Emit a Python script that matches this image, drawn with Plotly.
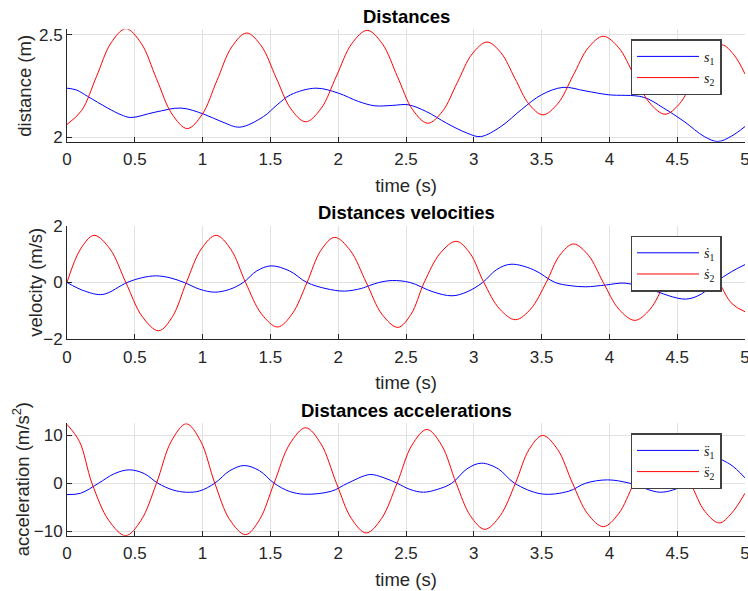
import plotly.graph_objects as go

# distances
t_s1 = [0, 0.07, 0.152, 0.3, 0.4, 0.47, 0.65, 0.841, 1.01, 1.15, 1.275, 1.45, 1.55, 1.65, 1.835,
        2.0, 2.15, 2.27, 2.4, 2.515, 2.65, 2.8, 2.95, 3.05, 3.2, 3.35, 3.5, 3.66, 3.82, 3.99, 4.25,
        4.4, 4.55, 4.7, 4.8, 4.9, 5.0]
s1 = [2.239, 2.23, 2.199, 2.142, 2.109, 2.096, 2.122, 2.142, 2.112, 2.073, 2.049, 2.101, 2.158,
      2.207, 2.239, 2.215, 2.174, 2.153, 2.155, 2.158, 2.125, 2.068, 2.02, 2.003, 2.052, 2.134,
      2.207, 2.243, 2.226, 2.207, 2.195, 2.142, 2.077, 2.003, 1.979, 2.005, 2.052]
t_s2 = [0, 0.108, 0.217, 0.325, 0.434, 0.547, 0.66, 0.774, 0.887, 0.996, 1.105, 1.215, 1.324,
        1.433, 1.542, 1.651, 1.76, 1.874, 1.987, 2.1, 2.214, 2.326, 2.437, 2.549, 2.66, 2.769,
        2.878, 2.988, 3.097, 3.2, 3.303, 3.407, 3.51, 3.621, 3.732, 3.844, 3.955, 4.069, 4.182,
        4.296, 4.41, 4.515, 4.62, 4.725, 4.83, 4.92, 5.0]
s2 = [2.062, 2.13, 2.295, 2.46, 2.529, 2.458, 2.285, 2.113, 2.042, 2.11, 2.275, 2.44, 2.508,
      2.445, 2.29, 2.138, 2.075, 2.14, 2.298, 2.456, 2.521, 2.455, 2.295, 2.134, 2.068, 2.126,
      2.266, 2.406, 2.464, 2.412, 2.287, 2.161, 2.109, 2.165, 2.3, 2.436, 2.492, 2.436, 2.302,
      2.168, 2.112, 2.161, 2.281, 2.4, 2.45, 2.4, 2.308]

# velocities
t_v1 = [0, 0.13, 0.265, 0.443, 0.55, 0.654, 0.76, 0.864, 0.98, 1.09, 1.2, 1.3, 1.4, 1.505, 1.64,
        1.77, 1.91, 2.045, 2.17, 2.232, 2.3, 2.4, 2.53, 2.7, 2.84, 2.95, 3.065, 3.17, 3.275, 3.44,
        3.6, 3.71, 3.825, 3.97, 4.116, 4.3, 4.56, 4.68, 4.78, 4.9, 5.0]
v1 = [0, -0.3, -0.42, 0, 0.165, 0.234, 0.165, 0, -0.24, -0.34, -0.24, 0, 0.41, 0.585, 0.41, 0,
      -0.215, -0.304, -0.21, -0.106, 0, 0.07, 0, -0.33, -0.468, -0.33, 0, 0.46, 0.643, 0.45, 0,
      -0.11, -0.152, -0.09, -0.023, -0.25, -0.585, -0.4, 0, 0.38, 0.63]
t_v2 = [0, 0.1, 0.2, 0.317, 0.434, 0.555, 0.676, 0.778, 0.88, 0.99, 1.1, 1.208, 1.317, 1.435,
        1.553, 1.66, 1.77, 1.872, 1.974, 2.09, 2.207, 2.323, 2.44, 2.537, 2.634, 2.752, 2.87,
        2.972, 3.074, 3.19, 3.307, 3.42, 3.534, 3.634, 3.735, 3.845, 3.955, 4.07, 4.188, 4.3,
        4.41, 4.515, 4.62, 4.715, 4.81, 4.905, 5.0]
v2 = [0, 1.18, 1.66, 1.18, 0, -1.2, -1.7, -1.2, 0, 1.18, 1.66, 1.17, 0, -1.11, -1.567, -1.11, 0,
      1.13, 1.59, 1.12, 0, -1.12, -1.58, -1.12, 0, 1.03, 1.45, 1.03, 0, -0.93, -1.31, -0.93, 0,
      0.96, 1.357, 0.96, 0, -0.94, -1.333, -0.94, 0, 0.92, 1.3, 0.92, 0, -0.75, -1.03]

# accelerations
t_a1 = [0, 0.1, 0.233, 0.35, 0.46, 0.57, 0.67, 0.78, 0.88, 0.98, 1.09, 1.2, 1.307, 1.42, 1.527,
        1.64, 1.754, 1.95, 2.07, 2.233, 2.33, 2.434, 2.53, 2.628, 2.73, 2.838, 2.95, 3.055, 3.18,
        3.3, 3.5, 3.7, 3.825, 3.987, 4.15, 4.375, 4.537, 4.586, 4.67, 4.75, 4.887, 5.0]
a1 = [-2.37, -2.1, 0, 2.0, 2.79, 2.0, 0, -1.4, -1.88, -1.6, 0, 2.6, 3.69, 2.6, 0, -1.7, -2.3,
      -1.67, 0, 1.81, 1.2, 0, -1.3, -1.88, -1.3, 0, 3.0, 4.18, 3.0, 0, -2.23, -1.67, 0, 0.7, 0,
      -1.88, -0.7, 0, 3.5, 5.4, 4.0, 1.11]
t_a2 = [0, 0.092, 0.184, 0.308, 0.432, 0.546, 0.66, 0.77, 0.88, 0.985, 1.09, 1.2, 1.317, 1.42,
        1.527, 1.643, 1.76, 1.873, 1.987, 2.097, 2.207, 2.32, 2.434, 2.544, 2.654, 2.762, 2.87,
        2.975, 3.081, 3.194, 3.307, 3.408, 3.508, 3.618, 3.728, 3.84, 3.955, 4.067, 4.18, 4.29,
        4.4, 4.5, 4.6, 4.705, 4.81, 4.9, 5.0]
a2 = [12.26, 8.7, 0, -7.75, -10.94, -7.75, 0, 8.8, 12.4, 8.8, 0, -7.6, -10.73, -7.6, 0, 8.2,
      11.57, 8.2, 0, -7.35, -10.38, -7.35, 0, 7.95, 11.22, 7.95, 0, -6.8, -9.62, -6.8, 0, 7.05,
      9.97, 7.05, 0, -6.4, -9.06, -6.4, 0, 6.3, 8.9, 6.3, 0, -5.9, -8.29, -6.3, -2.09]

W, H = 748, 591
AX = "#262626"
GRID = "#e1e1e1"
BLUE, RED = "#0000ff", "#ff0000"

panels = [
    # (top px, bottom px, y range, y ticks, y title, y title x px, title, names)
    (29.3, 141.7, [1.978, 2.526], [2, 2.5], "distance (m)", 24.5, "Distances",
     ["<i>s</i><sub>1</sub>", "<i>s</i><sub>2</sub>"]),
    (225.7, 339.3, [-2, 2], [-2, 0, 2], "velocity (m/s)", 35.5, "Distances velocities",
     ["<i>s\u0307</i><sub>1</sub>", "<i>s\u0307</i><sub>2</sub>"]),
    (423.3, 535.7, [-10.95, 12.5], [-10, 0, 10], "acceleration (m/s<sup>2</sup>)", 21,
     "Distances accelerations",
     ["<i>s\u0308</i><sub>1</sub>", "<i>s\u0308</i><sub>2</sub>"]),
]
data = [((t_s1, s1), (t_s2, s2)), ((t_v1, v1), (t_v2, v2)), ((t_a1, a1), (t_a2, a2))]
legend_tops = [39.3, 235.7, 433.3]

ML, MR = 67.3, 2.5
PW = W - ML - MR

fig = go.Figure()
layout = dict(
    width=W, height=H, margin=dict(l=ML, r=MR, t=0, b=0, autoexpand=False),
    paper_bgcolor="white", plot_bgcolor="white",
    font=dict(family="Liberation Sans, Arial", size=17, color=AX),
    annotations=[],
)

for i, (top, bot, yr, yt, ytitle, ytx, title, names) in enumerate(panels):
    k = "" if i == 0 else str(i + 1)
    leg = "legend" if i == 0 else "legend" + str(i + 1)
    for (tt, vv), name, col in zip(data[i], names, [BLUE, RED]):
        fig.add_trace(go.Scatter(
            x=tt, y=vv, name=name, mode="lines",
            line=dict(color=col, width=1, shape="spline", smoothing=1.0),
            xaxis="x" + k, yaxis="y" + k, legend=leg,
        ))
    layout["xaxis" + k] = dict(
        domain=[0, 1], anchor="y" + k, range=[0, 5], tick0=0, dtick=0.5,
        showgrid=True, gridcolor=GRID, zeroline=False, automargin=False,
        showline=True, linecolor=AX, linewidth=1,
        ticks="inside", ticklen=5, tickcolor=AX, ticklabeloverflow="allow",
        ticklabelstandoff=2,
        tickfont=dict(size=17, color=AX),
        title=dict(text="time (s)", font=dict(size=18.5, color=AX), standoff=10),
    )
    layout["yaxis" + k] = dict(
        domain=[1 - bot / H, 1 - top / H], anchor="x" + k, range=yr, tickvals=yt,
        showgrid=True, gridcolor=GRID, zeroline=False, automargin=False,
        showline=True, linecolor=AX, linewidth=1,
        ticks="inside", ticklen=5, tickcolor=AX,
        tickfont=dict(size=17, color=AX),
    )
    layout[leg] = dict(
        x=(722 - ML) / PW, xanchor="right", y=1 - legend_tops[i] / H,
        yanchor="top", bgcolor="white", bordercolor="#404040", borderwidth=1.5,
        font=dict(family="Liberation Serif, DejaVu Serif", size=14, color="#111111"),
        itemwidth=62, tracegroupgap=0,
    )
    layout["annotations"].append(dict(
        text="<b>" + title + "</b>", xref="paper", yref="paper",
        x=0.5, y=1 - (top - 13) / H, xanchor="center", yanchor="middle",
        showarrow=False, font=dict(size=18.5, color="black"),
    ))
    layout["annotations"].append(dict(
        text=ytitle, xref="paper", yref="paper", textangle=-90,
        x=(ytx - ML) / PW, y=1 - (top + bot) / 2 / H, xanchor="center", yanchor="middle",
        showarrow=False, font=dict(size=18.5, color=AX),
    ))

fig.update_layout(**layout)
# drop the browser's default body margin so the figure sits at the page origin
fig.write_html("out.html", config={"displayModeBar": False},
               post_script="document.body.style.margin='0';"
                           "document.body.style.overflow='hidden';")
